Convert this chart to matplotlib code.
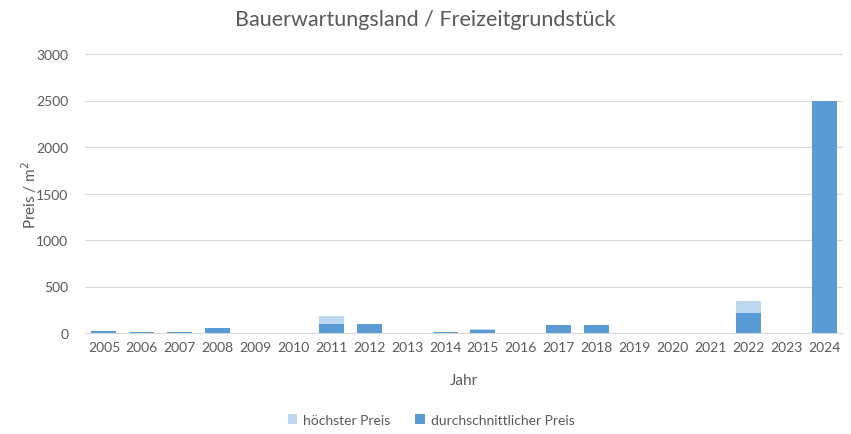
import matplotlib
matplotlib.use("Agg")
import matplotlib.pyplot as plt
import numpy as np

years = [str(y) for y in range(2005, 2025)]
max_price = [25, 12, 12, 50, 0, 0, 185, 100, 0, 15, 40, 0, 90, 90, 0, 0, 0, 345, 0, 2500]
avg_price = [25, 12, 12, 50, 0, 0, 100, 100, 0, 15, 35, 0, 90, 90, 0, 0, 0, 215, 0, 2500]

plt.rcParams['font.family'] = ['Lato', 'DejaVu Sans']
gray = '#595959'

fig = plt.figure(figsize=(8.51, 4.35), dpi=100)
ax = fig.add_axes([85/851, 1-334/435, 758/851, 279/435])
x = np.arange(len(years))
w = 0.66
ax.bar(x, max_price, width=w, color='#BDD7EE', label='höchster Preis', zorder=2)
ax.bar(x, avg_price, width=w, color='#5B9BD5', label='durchschnittlicher Preis', zorder=3)

ax.set_xlim(-0.5, len(years) - 0.5)
ax.set_ylim(0, 3000)
ax.set_yticks(range(0, 3001, 500))
ax.set_xticks(x)
ax.set_xticklabels(years)
ax.yaxis.grid(True, color='#D9D9D9', linewidth=0.8, zorder=0)
ax.set_axisbelow(True)
for s in ['top', 'right', 'left']:
    ax.spines[s].set_visible(False)
ax.spines['bottom'].set_color('#D9D9D9')
ax.tick_params(axis='both', length=0, colors=gray, labelsize=10)
ax.tick_params(axis='y', pad=12)
ax.tick_params(axis='x', pad=6)

ax.set_xlabel('Jahr', color=gray, fontsize=11, labelpad=14)
ax.set_ylabel('Preis / m$^2$', color=gray, fontsize=11, labelpad=-2)
fig.suptitle('Bauerwartungsland / Freizeitgrundstück', color=gray, fontsize=15.5, y=1-20/435, va='center')

leg = fig.legend(loc='center', bbox_to_anchor=(431/851, 1-421/435), ncol=2, frameon=False,
                 fontsize=10, handlelength=0.7, handleheight=0.7, columnspacing=1.8, handletextpad=0.4)
for t in leg.get_texts():
    t.set_color(gray)

fig.savefig('out.png', dpi=100)
